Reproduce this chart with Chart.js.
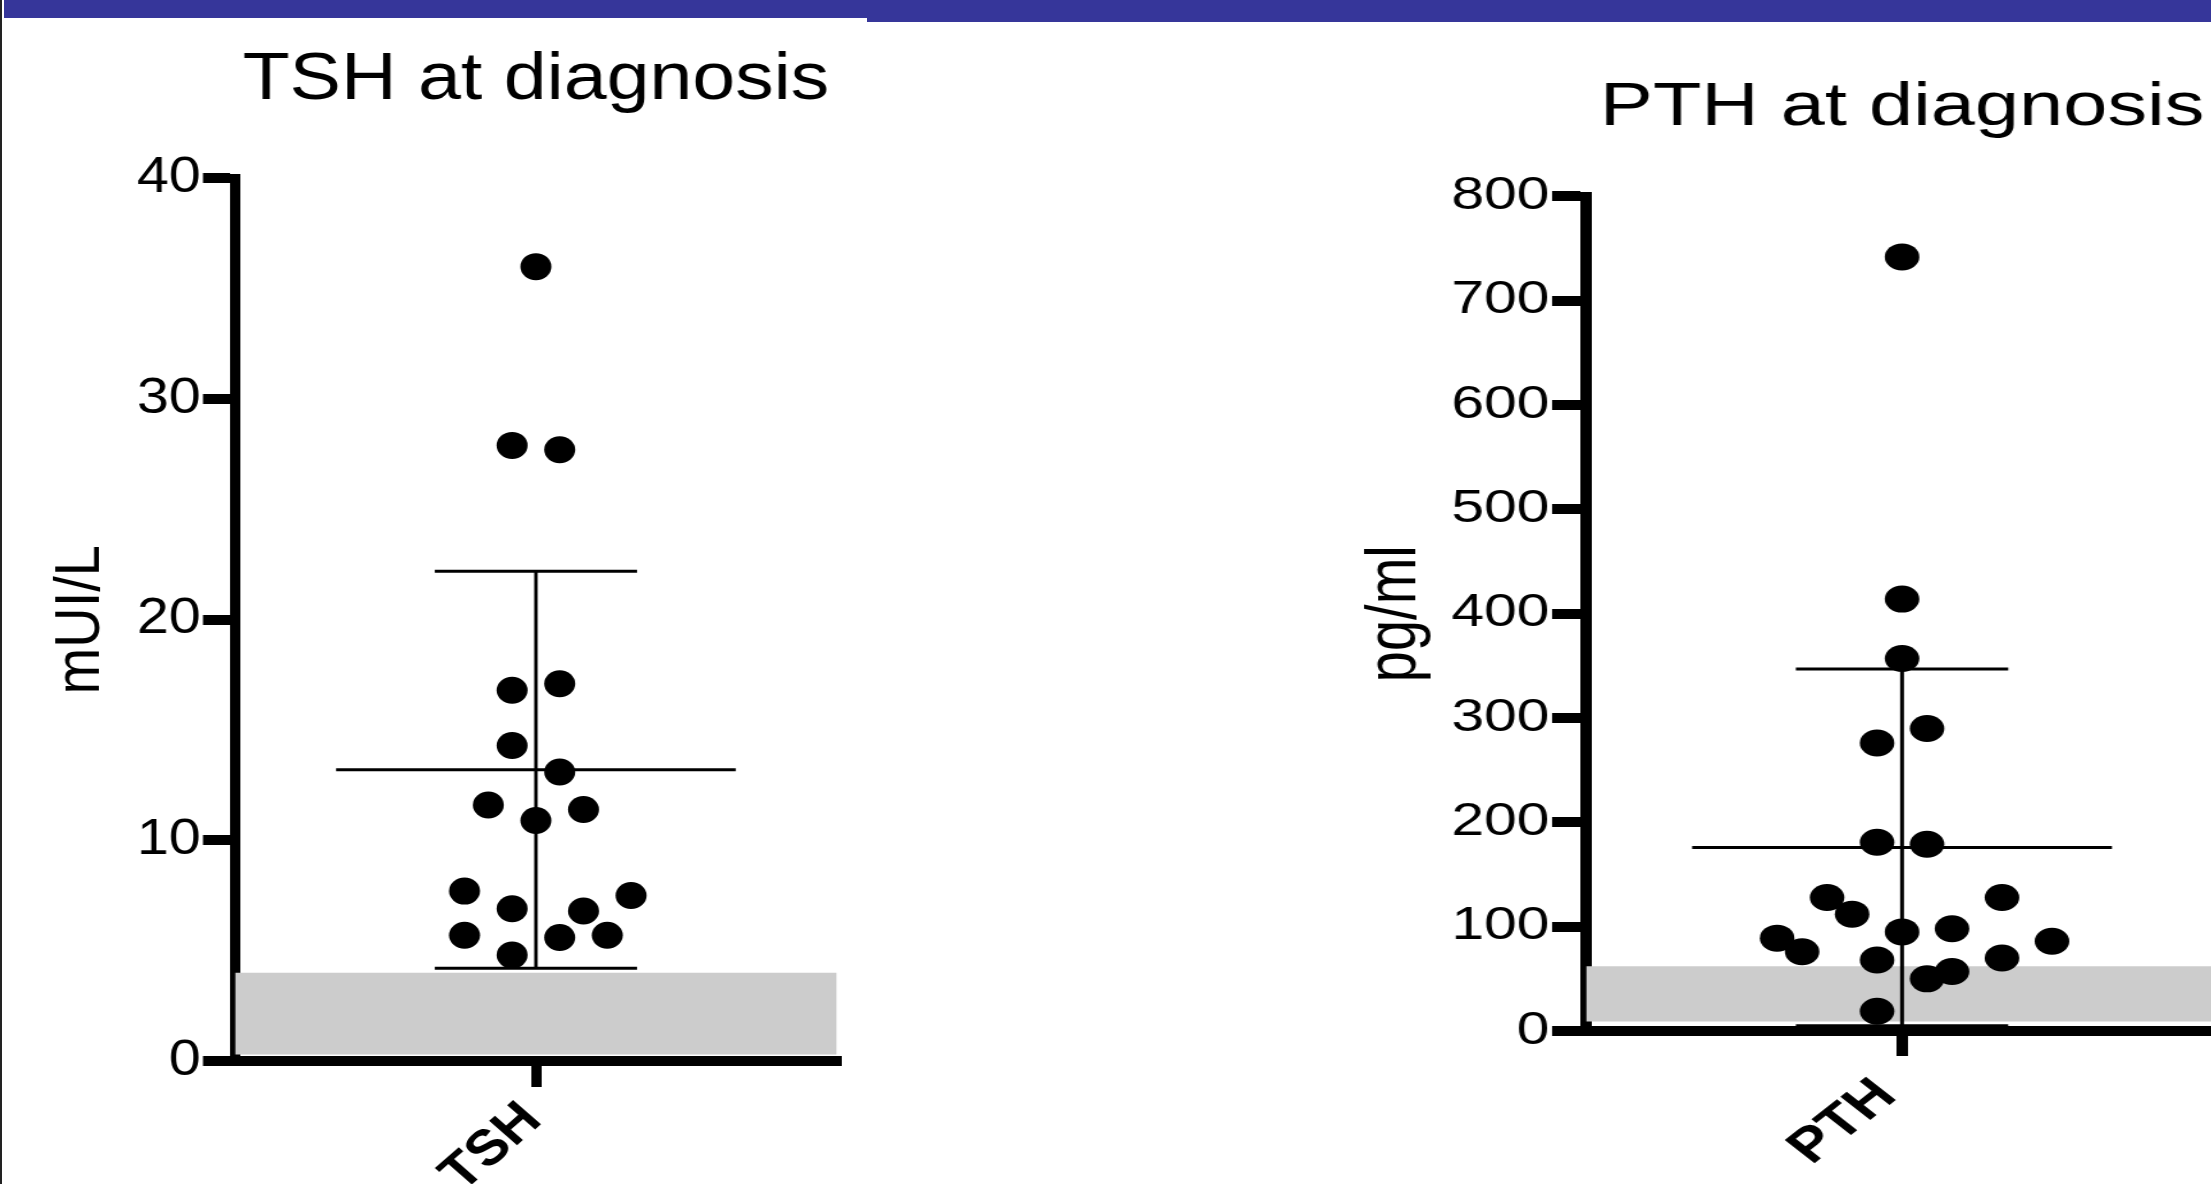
<!DOCTYPE html>
<html>
<head>
<meta charset="utf-8">
<script src="https://cdn.jsdelivr.net/npm/chart.js@4.4.1/dist/chart.umd.min.js"></script>
<style>
html, body { margin: 0; padding: 0; width: 2211px; height: 1184px; overflow: hidden; background: #fff; }
.bar { position: absolute; background: #36369a; }
#edge { position: absolute; left: 0; top: 0; width: 2px; height: 1184px; background: #222; }
.panel { position: absolute; top: 0; height: 1184px; transform-origin: 0 0; }
/* the slide stretched both pictures sideways, each by its own amount */
#tshBox { left: 0; width: 760px; transform: scaleX(1.15); }
#pthBox { left: 1300px; width: 740px; transform: scaleX(1.28); }
</style>
</head>
<body>
<div class="bar" style="left:4px;top:0;width:863px;height:18px"></div>
<div class="bar" style="left:867px;top:0;width:1344px;height:22px"></div>
<div id="edge"></div>
<div class="panel" id="tshBox"><canvas id="tshChart" width="760" height="1184" style="width:760px;height:1184px"></canvas></div>
<div class="panel" id="pthBox"><canvas id="pthChart" width="740" height="1184" style="width:740px;height:1184px"></canvas></div>
<script>
// TSH (mUI/L), one dot per patient; column = sideways offset of the dot
const tshValues = [36.0, 27.9, 27.7, 16.8, 17.1, 14.3, 13.1, 11.6, 10.9, 11.4, 7.7, 6.9, 6.8, 7.5, 5.7, 5.6, 5.7, 4.8];
const tshColumns = [0, -1, 1, -1, 1, -1, 1, -2, 0, 2, -3, -1, 2, 4, -3, 1, 3, -1];
const tshMean = 13.2;
const tshSd = 9.0;
const tshRange = [0.3, 4.0];
const tshTicks = [0, 10, 20, 30, 40];

// PTH (pg/ml)
const pthValues = [742, 414, 357, 276, 290, 181, 179, 128, 128, 112, 89, 95, 98, 86, 76, 68, 70, 50, 57, 19];
const pthColumns = [0, 0, 0, -1, 1, -1, 1, -3, 4, -2, -5, 0, 2, 6, -4, -1, 4, 1, 2, -1];
const pthMean = 176;
const pthSd = 171;
const pthRange = [9, 62];
const pthTicks = [0, 100, 200, 300, 400, 500, 600, 700, 800];

Chart.defaults.font.family = '"Liberation Sans", Arial, sans-serif';
Chart.defaults.color = '#000';

const HALF = 12.65;   // half width of the x range, in dot columns
const MEAN_HALF = 8.4;
const CAP_HALF = 4.25;

function seg(x1, y1, x2, y2) {
    return {
        data: [{ x: x1, y: y1 }, { x: x2, y: y2 }],
        showLine: true, borderColor: '#000', borderWidth: 3, pointRadius: 0
    };
}

function makeChart(id, p) {
    let dots = p.values.map((v, i) => ({ x: p.columns[i], y: v }));
    let datasets = [
        { data: dots, pointRadius: 13.5, pointBackgroundColor: '#000', pointBorderWidth: 0, showLine: false },
        seg(-MEAN_HALF, p.mean, MEAN_HALF, p.mean),
        seg(0, p.mean - p.sd, 0, p.mean + p.sd),
        seg(-CAP_HALF, p.mean + p.sd, CAP_HALF, p.mean + p.sd),
        seg(-CAP_HALF, p.mean - p.sd, CAP_HALF, p.mean - p.sd),
        {
            data: [{ x: -HALF, y: p.range[1] }, { x: HALF, y: p.range[1] }],
            showLine: true, borderWidth: 0, pointRadius: 0,
            fill: { value: p.range[0] }, backgroundColor: '#cccccc'
        }
    ];

    return new Chart(document.getElementById(id), {
        type: 'scatter',
        data: { datasets: datasets },
        options: {
            responsive: false,
            animation: false,
            events: [],
            layout: { padding: { left: 0, top: 0, bottom: 0, right: p.padRight } },
            plugins: {
                legend: { display: false },
                tooltip: { enabled: false },
                title: {
                    display: true, text: p.title, fullSize: false,
                    font: { size: p.titleSize, weight: 'normal' },
                    padding: { top: p.titleTop, bottom: p.titleBottom }
                }
            },
            scales: {
                x: {
                    type: 'linear', min: -HALF, max: HALF,
                    afterBuildTicks: s => { s.ticks = [{ value: 0 }]; },
                    afterFit: s => { s.height = p.xHeight; },
                    grid: { display: true, drawOnChartArea: false, drawTicks: true, tickLength: p.xTickLen, lineWidth: 9, color: '#000' },
                    border: { display: true, width: 10, color: '#000' },
                    ticks: {
                        autoSkip: false, minRotation: 45, maxRotation: 45,
                        padding: p.catPad, labelOffset: p.catShift,
                        font: { size: p.catSize, weight: 'bold' },
                        callback: () => p.category
                    }
                },
                y: {
                    min: 0, max: p.ticks[p.ticks.length - 1],
                    afterBuildTicks: s => { s.ticks = p.ticks.map(v => ({ value: v })); },
                    afterFit: s => { s.width = p.yWidth; },
                    grid: { display: true, drawOnChartArea: false, drawTicks: true, tickLength: p.yTickLen, lineWidth: 10, color: '#000' },
                    border: { display: true, width: 9, color: '#000' },
                    ticks: { padding: 2, font: { size: p.tickSize } },
                    title: {
                        display: true, text: p.unit,
                        font: { size: p.unitSize },
                        padding: { top: p.unitPad, bottom: 0 }
                    }
                }
            }
        }
    });
}

makeChart('tshChart', {
    values: tshValues, columns: tshColumns, mean: tshMean, sd: tshSd, range: tshRange, ticks: tshTicks,
    title: 'TSH at diagnosis', category: 'TSH', unit: 'mUI/L',
    titleSize: 67, titleTop: 40, titleBottom: 58,
    tickSize: 50, unitSize: 56, unitPad: 36.8, catSize: 50, catPad: 4, catShift: -3,
    yWidth: 204.3, yTickLen: 27.8, xHeight: 123, xTickLen: 26, padRight: 32.3
});

makeChart('pthChart', {
    values: pthValues, columns: pthColumns, mean: pthMean, sd: pthSd, range: pthRange, ticks: pthTicks,
    title: 'PTH at diagnosis', category: 'PTH', unit: 'pg/ml',
    titleSize: 62, titleTop: 71, titleBottom: 51,
    tickSize: 46, unitSize: 56, unitPad: 41.4, catSize: 48, catPad: 12, catShift: -12,
    yWidth: 223.4, yTickLen: 26.5, xHeight: 153, xTickLen: 25, padRight: 22.7
});
</script>
</body>
</html>
